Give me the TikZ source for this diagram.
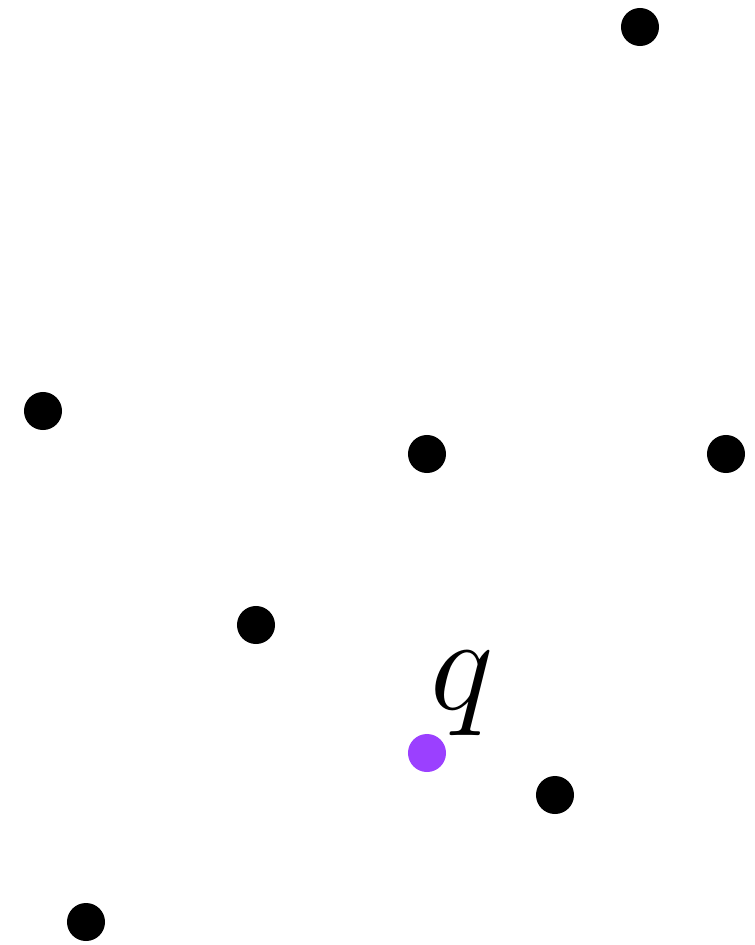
\documentclass[tikz,border=0pt]{standalone}
\usepackage{amsmath,amssymb}
\usepackage{xcolor}
\usepackage{tikz}
\definecolor{querypurple}{RGB}{155,64,255}

\begin{document}
\begin{tikzpicture}[
  x=0.01cm, y=-0.01cm,
  site/.style={
    circle, fill=black, draw=none,
    minimum size=0.38cm, inner sep=0pt},
  qsite/.style={
    circle, fill=querypurple, draw=none,
    minimum size=0.38cm, inner sep=0pt},
  qlbl/.style={font=\fontsize{40}{48}\selectfont, inner sep=0pt,
    scale=1.54, transform shape},
]

\useasboundingbox (0,0) rectangle (755,945);

%% ---- Data points ----
\node[site] (p1) at (640, 27) {};
\node[site] (p2) at (43, 411) {};
\node[site] (p3) at (427, 454) {};
\node[site] (p4) at (726, 454) {};
\node[site] (p5) at (256, 625) {};
\node[site] (p6) at (555, 795) {};
\node[site] (p7) at (86, 922) {};

%% ---- Query point ----
\node[qsite] (q) at (427, 753) {};
\node[qlbl, anchor=base west] (qname) at (429, 709) {$q$};

\end{tikzpicture}
\end{document}
